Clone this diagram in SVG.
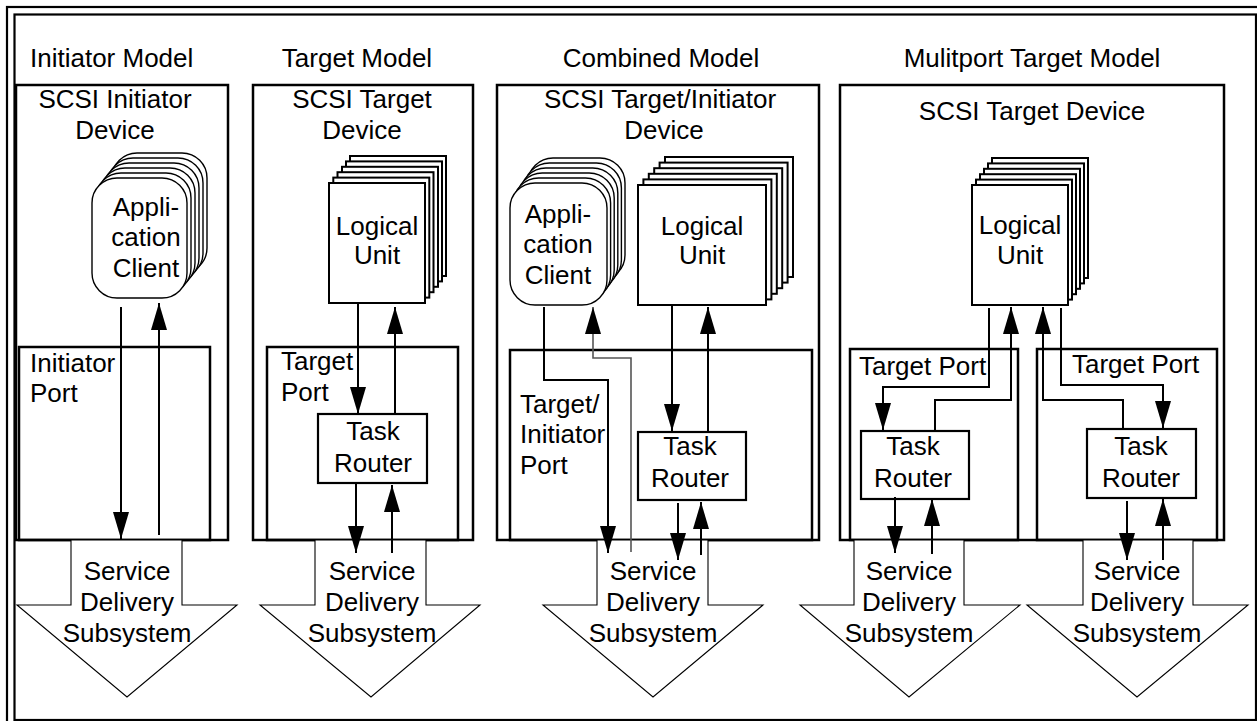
<svg xmlns="http://www.w3.org/2000/svg" width="1257" height="721" viewBox="0 0 1257 721">
<style>
.frame{fill:none;stroke:#000;stroke-width:2.2}
.dev{fill:#fff;stroke:#000;stroke-width:2.5}
.port{fill:none;stroke:#000;stroke-width:2.5}
.tr{fill:#fff;stroke:#000;stroke-width:2.2}
.lu{fill:#fff;stroke:#000;stroke-width:2}
.ac{fill:#fff;stroke:#000;stroke-width:1.4}
.sds{fill:#fff;stroke:#000;stroke-width:1.1}
.t{font-family:"Liberation Sans",Arial,sans-serif;font-size:26px;fill:#000}
.m{text-anchor:middle}
.c{fill:none;stroke:#000;stroke-width:2}
.g{fill:none;stroke:#555;stroke-width:1.6}
</style>
<defs>
<marker id="ah" viewBox="0 0 27 16" refX="27" refY="8" markerWidth="27" markerHeight="16" markerUnits="userSpaceOnUse" orient="auto">
<path d="M0,0 L27,8 L0,16 Z" fill="#000"/>
</marker>
<rect id="lu96" width="96" height="120" class="lu"/>
</defs>
<rect x="7" y="7" width="1270" height="740" class="frame"/>
<rect x="14.5" y="14.5" width="1241.5" height="705.5" class="frame" fill="#fff"/>

<g id="initiator-model">
<text class="t" x="30" y="67">Initiator Model</text>
<g id="initiator-device">
<rect x="16" y="85" width="212" height="455" class="dev"/>
<text class="t m" x="115" y="108">SCSI Initiator</text>
<text class="t m" x="115" y="139">Device</text>
</g>
<g id="initiator-app-client">
<rect x="112" y="153" width="95" height="120" rx="25" class="ac"/>
<rect x="108" y="158" width="95" height="120" rx="25" class="ac"/>
<rect x="104" y="163" width="95" height="120" rx="25" class="ac"/>
<rect x="100" y="168" width="95" height="120" rx="25" class="ac"/>
<rect x="96" y="173" width="95" height="120" rx="25" class="ac"/>
<rect x="92" y="178" width="95" height="120" rx="25" class="ac"/>
<text class="t m" x="146" y="216">Appli-</text>
<text class="t m" x="146" y="246">cation</text>
<text class="t m" x="146" y="277">Client</text>
</g>
<g id="initiator-port">
<rect x="19" y="347" width="191" height="193" class="port"/>
<text class="t" x="30" y="372">Initiator</text>
<text class="t" x="30" y="402">Port</text>
</g>
<g id="initiator-sds">
<polygon points="71,540 71,605 17,605 127,697 237,605 182,605 182,540" class="sds"/>
<text class="t m" x="127" y="580">Service</text>
<text class="t m" x="127" y="611">Delivery</text>
<text class="t m" x="127" y="642">Subsystem</text>
</g>
</g>

<g id="target-model">
<text class="t m" x="357" y="67">Target Model</text>
<g id="target-device">
<rect x="253" y="85" width="220" height="455" class="dev"/>
<text class="t m" x="362" y="108">SCSI Target</text>
<text class="t m" x="362" y="139">Device</text>
</g>
<g id="target-lu">
<use href="#lu96" x="350" y="156"/>
<use href="#lu96" x="346" y="161.4"/>
<use href="#lu96" x="342" y="166.8"/>
<use href="#lu96" x="337.5" y="172.2"/>
<use href="#lu96" x="333.3" y="177.6"/>
<use href="#lu96" x="329" y="183"/>
<text class="t m" x="377" y="235">Logical</text>
<text class="t m" x="377" y="264">Unit</text>
</g>
<g id="target-port">
<rect x="267" y="347" width="191" height="193" class="port"/>
<text class="t" x="281" y="370">Target</text>
<text class="t" x="281" y="401">Port</text>
</g>
<g id="target-task-router">
<rect x="318" y="414" width="109" height="69" class="tr"/>
<text class="t m" x="373" y="440">Task</text>
<text class="t m" x="373" y="472">Router</text>
</g>
<g id="target-sds">
<polygon points="315,540 315,605 260,605 371,697 480,605 426,605 426,540" class="sds"/>
<text class="t m" x="372" y="580">Service</text>
<text class="t m" x="372" y="611">Delivery</text>
<text class="t m" x="372" y="642">Subsystem</text>
</g>
</g>

<g id="combined-model">
<text class="t m" x="661" y="67">Combined Model</text>
<g id="combined-device">
<rect x="497" y="85" width="322" height="455" class="dev"/>
<text class="t m" x="660" y="108">SCSI Target/Initiator</text>
<text class="t m" x="664" y="139">Device</text>
</g>
<g id="combined-app-client">
<rect x="528" y="158" width="97" height="122" rx="25" class="ac"/>
<rect x="524.4" y="163" width="97" height="122" rx="25" class="ac"/>
<rect x="520.8" y="168" width="97" height="122" rx="25" class="ac"/>
<rect x="517.2" y="173" width="97" height="122" rx="25" class="ac"/>
<rect x="513.6" y="178" width="97" height="122" rx="25" class="ac"/>
<rect x="510" y="183" width="97" height="122" rx="25" class="ac"/>
<text class="t m" x="558" y="223">Appli-</text>
<text class="t m" x="558" y="253">cation</text>
<text class="t m" x="558" y="284">Client</text>
</g>
<g id="combined-lu">
<rect x="665" y="157" width="128" height="120" class="lu"/>
<rect x="659.6" y="162.6" width="128" height="120" class="lu"/>
<rect x="654.2" y="168.2" width="128" height="120" class="lu"/>
<rect x="648.8" y="173.8" width="128" height="120" class="lu"/>
<rect x="643.4" y="179.4" width="128" height="120" class="lu"/>
<rect x="638" y="185" width="128" height="120" class="lu"/>
<text class="t m" x="702" y="235">Logical</text>
<text class="t m" x="702" y="264">Unit</text>
</g>
<g id="combined-port">
<rect x="510" y="350" width="302" height="190" class="port"/>
<text class="t" x="520" y="413">Target/</text>
<text class="t" x="520" y="443">Initiator</text>
<text class="t" x="520" y="474">Port</text>
</g>
<g id="combined-task-router">
<rect x="638" y="432" width="108" height="68" class="tr"/>
<text class="t m" x="690" y="455">Task</text>
<text class="t m" x="690" y="487">Router</text>
</g>
<g id="combined-sds">
<polygon points="597,540 597,605 543,605 653,697 763,605 708,605 708,540" class="sds"/>
<text class="t m" x="653" y="580">Service</text>
<text class="t m" x="653" y="611">Delivery</text>
<text class="t m" x="653" y="642">Subsystem</text>
</g>
</g>

<g id="multiport-model">
<text class="t m" x="1032" y="67">Mulitport Target Model</text>
<g id="multiport-device">
<rect x="840" y="85" width="384" height="455" class="dev"/>
<text class="t m" x="1032" y="120">SCSI Target Device</text>
</g>
<g id="multiport-lu">
<use href="#lu96" x="992" y="158"/>
<use href="#lu96" x="988" y="163.4"/>
<use href="#lu96" x="984" y="168.8"/>
<use href="#lu96" x="980" y="174.2"/>
<use href="#lu96" x="976" y="179.6"/>
<use href="#lu96" x="972" y="185"/>
<text class="t m" x="1020" y="234">Logical</text>
<text class="t m" x="1020" y="264">Unit</text>
</g>
<g id="multiport-port-a">
<rect x="850" y="349" width="168" height="191" class="port"/>
<text class="t" x="859" y="375">Target Port</text>
</g>
<g id="multiport-port-b">
<rect x="1037" y="349" width="180" height="191" class="port"/>
<text class="t" x="1072" y="373">Target Port</text>
</g>
<g id="multiport-task-router-a">
<rect x="861" y="431" width="108" height="68" class="tr"/>
<text class="t m" x="913" y="455">Task</text>
<text class="t m" x="913" y="487">Router</text>
</g>
<g id="multiport-task-router-b">
<rect x="1087" y="429" width="109" height="69" class="tr"/>
<text class="t m" x="1141" y="455">Task</text>
<text class="t m" x="1141" y="487">Router</text>
</g>
<g id="multiport-sds-a">
<polygon points="854,540 854,605 800,605 909,697 1020,605 964,605 964,540" class="sds"/>
<text class="t m" x="909" y="580">Service</text>
<text class="t m" x="909" y="611">Delivery</text>
<text class="t m" x="909" y="642">Subsystem</text>
</g>
<g id="multiport-sds-b">
<polygon points="1083,540 1083,605 1027,605 1137,697 1248,605 1193,605 1193,540" class="sds"/>
<text class="t m" x="1137" y="580">Service</text>
<text class="t m" x="1137" y="611">Delivery</text>
<text class="t m" x="1137" y="642">Subsystem</text>
</g>
</g>

<g id="connectors">
<path class="c" d="M121,307 V539" marker-end="url(#ah)"/>
<path class="c" d="M159,535 V303" marker-end="url(#ah)"/>
<path class="c" d="M358,304 V414" marker-end="url(#ah)"/>
<path class="c" d="M395,414 V307" marker-end="url(#ah)"/>
<path class="c" d="M356,484 V553" marker-end="url(#ah)"/>
<path class="c" d="M392,553 V485" marker-end="url(#ah)"/>
<path class="c" d="M544,307 V380 H608 V553" marker-end="url(#ah)"/>
<path class="g" d="M631,552 V358 H593 V307" marker-end="url(#ah)"/>
<path class="c" d="M672,305 V431" marker-end="url(#ah)"/>
<path class="c" d="M708,431 V307" marker-end="url(#ah)"/>
<path class="c" d="M678,503 V560" marker-end="url(#ah)"/>
<path class="c" d="M701,555 V502" marker-end="url(#ah)"/>
<path class="c" d="M989,308 V387 H883 V430" marker-end="url(#ah)"/>
<path class="c" d="M935,431 V400 H1011 V307" marker-end="url(#ah)"/>
<path class="c" d="M895,497 V553" marker-end="url(#ah)"/>
<path class="c" d="M932,554 V499" marker-end="url(#ah)"/>
<path class="c" d="M1061,308 V385 H1163 V428" marker-end="url(#ah)"/>
<path class="c" d="M1123,429 V400 H1043 V307" marker-end="url(#ah)"/>
<path class="c" d="M1127,501 V560" marker-end="url(#ah)"/>
<path class="c" d="M1163,560 V499" marker-end="url(#ah)"/>
</g>
</svg>
